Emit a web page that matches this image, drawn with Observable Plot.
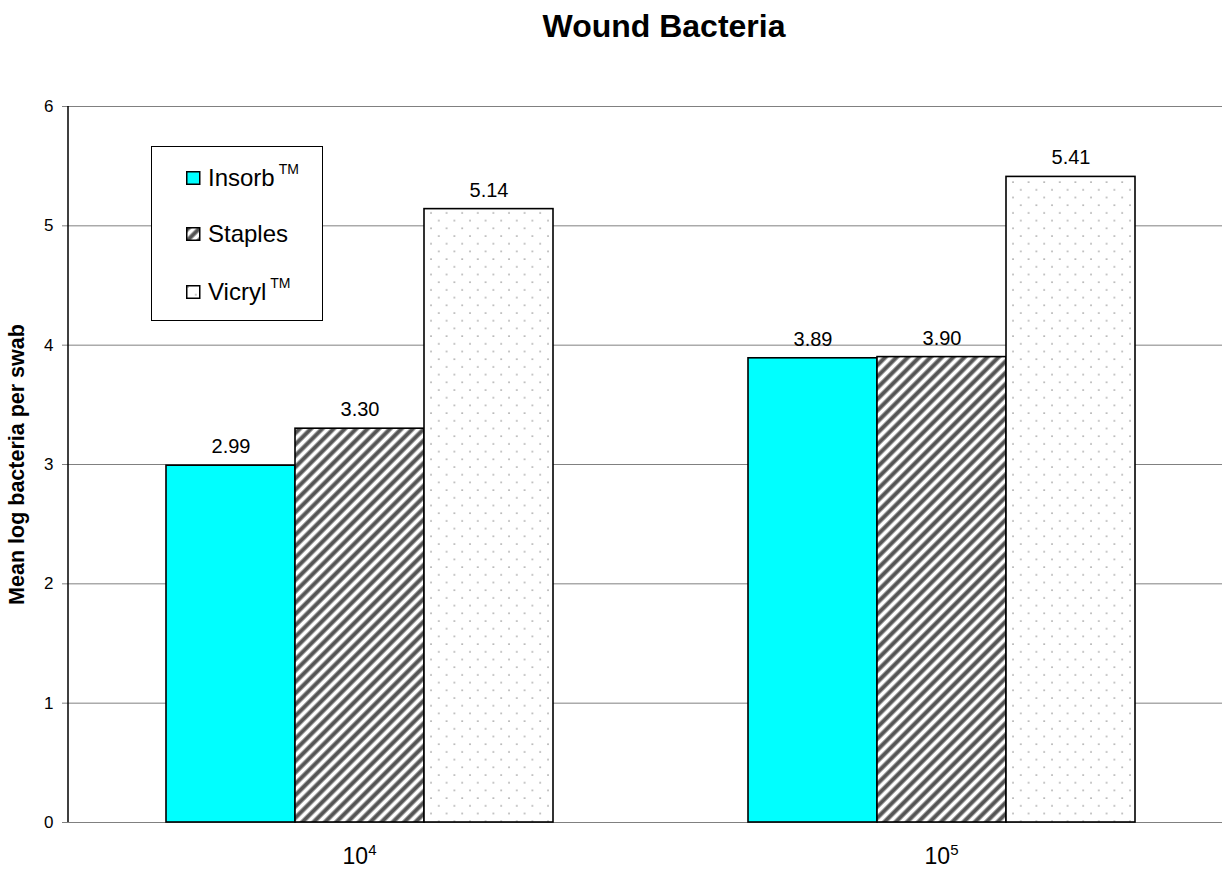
<!DOCTYPE html>
<html>
<head>
<meta charset="utf-8">
<script src="https://cdn.jsdelivr.net/npm/d3@7"></script>
<script src="https://cdn.jsdelivr.net/npm/@observablehq/plot@0.6"></script>
<style>
  html, body { margin: 0; padding: 0; background: white; }
  body { font-family: "Liberation Sans", Arial, sans-serif; }
  #wrap { position: relative; width: 1222px; height: 870px; overflow: hidden; background: white; }
  #title { position: absolute; top: 10px; left: 664px; transform: translateX(-50%); font-size: 32px; line-height: 32px; font-weight: bold; white-space: nowrap; color: black; }
  #chart { position: absolute; left: 0; top: 80px; }
  #legend { position: absolute; left: 151px; top: 146px; width: 170px; height: 173px; border: 1px solid black; background: white; }
  .item { position: absolute; left: 34px; font-size: 24px; line-height: 24px; white-space: nowrap; color: black; }
  .item svg { position: absolute; left: 0; top: 0; overflow: visible; }
  .item span.lab { position: absolute; left: 22px; top: 0; }
  .item sup { font-size: 14px; position: relative; top: -9px; vertical-align: top; margin-left: 4px; }
</style>
</head>
<body>
<svg width="0" height="0" style="position:absolute">
  <defs>
    <pattern id="stripes" patternUnits="userSpaceOnUse" width="8" height="8" patternTransform="rotate(45)">
      <rect width="8" height="8" fill="white"/>
      <rect x="0" width="1" height="8" fill="#a0a0a0"/>
      <rect x="1" width="3" height="8" fill="#555555"/>
      <rect x="4" width="1" height="8" fill="#a0a0a0"/>
    </pattern>
    <pattern id="dots" patternUnits="userSpaceOnUse" width="15.6" height="15.4">
      <rect width="15.6" height="15.4" fill="white"/>
      <circle cx="2" cy="2" r="0.85" fill="#9a9a9a"/>
      <circle cx="9.8" cy="9.7" r="0.85" fill="#9a9a9a"/>
    </pattern>
  </defs>
</svg>
<div id="wrap">
  <div id="title">Wound Bacteria</div>
  <div id="chart"></div>
  <div id="legend"></div>
</div>
<script>
// ---- data ----
const groups = ["10^4", "10^5"];
const seriesNames = ["Insorb", "Staples", "Vicryl"];
const insorbValues = [2.99, 3.89];
const staplesValues = [3.30, 3.90];
const vicrylValues = [5.14, 5.41];
const yTicks = [0, 1, 2, 3, 4, 5, 6];
const yLabel = "Mean log bacteria per swab";
const legendLabels = [
  {name: "Insorb", tm: true},
  {name: "Staples", tm: false},
  {name: "Vicryl", tm: true}
];

// ---- build table ----
const valuesBySeries = {Insorb: insorbValues, Staples: staplesValues, Vicryl: vicrylValues};
const fills = {Insorb: "#00ffff", Staples: "url(#stripes)", Vicryl: "url(#dots)"};
const rows = groups.flatMap((g, i) => seriesNames.map(s => ({group: g, series: s, value: valuesBySeries[s][i]})));

const marginLeft = 68;
const chart = Plot.plot({
  width: 1222,
  height: 790,
  marginLeft,
  marginRight: -10,
  marginTop: 26,
  marginBottom: 48,
  style: {fontFamily: "'Liberation Sans', Arial, sans-serif", background: "white", color: "black"},
  fx: {domain: groups, padding: 0, axis: null, label: null},
  x: {domain: seriesNames, paddingInner: 0, paddingOuter: 0.75, axis: null},
  y: {domain: [0, 6], axis: null},
  marks: [
    Plot.gridY(yTicks, {stroke: "#808080", strokeOpacity: 1, strokeWidth: 1}),
    ...seriesNames.map(s => Plot.barY(rows.filter(d => d.series === s), {
      fx: "group", x: "series", y: "value",
      fill: fills[s], stroke: "black", strokeWidth: 1.6
    })),
    Plot.text(rows, {
      fx: "group", x: "series", y: "value",
      text: d => d.value.toFixed(2), dy: -19, fontSize: 20, fill: "black"
    }),
    Plot.axisY(yTicks, {
      tickSize: 6, tickPadding: 9, fontSize: 17, stroke: "#808080", fill: "black",
      tickFormat: d => String(d),
      label: yLabel, labelAnchor: "center", labelArrow: "none", labelOffset: 60
    }),
    Plot.axisFx({anchor: "bottom", tickSize: 0, tickPadding: 25, fontSize: 23, label: null, fill: "black"})
  ]
});
document.getElementById("chart").appendChild(chart);

// superscripts on the category tick labels
chart.querySelectorAll('[aria-label="fx-axis tick label"] text').forEach(t => {
  const s = t.textContent;
  if (s.includes("^")) {
    const [base, exp] = s.split("^");
    t.textContent = base;
    const ts = document.createElementNS("http://www.w3.org/2000/svg", "tspan");
    ts.setAttribute("font-size", "15");
    ts.setAttribute("dy", "-9");
    ts.textContent = exp;
    t.appendChild(ts);
  }
});

// y tick label size
chart.querySelectorAll('[aria-label="y-axis tick label"], [aria-label="y-axis tick label"] text').forEach(el => {
  el.setAttribute("font-size", "17");
  el.style.fontSize = "17px";
});

// style y-axis label
chart.querySelectorAll('[aria-label="y-axis label"] text').forEach(t => {
  t.setAttribute("font-weight", "bold");
  t.setAttribute("font-size", "21.5");
});

// vertical y-axis line at the frame's left edge
const ys = chart.scale("y");
const line = document.createElementNS("http://www.w3.org/2000/svg", "line");
line.setAttribute("x1", marginLeft); line.setAttribute("x2", marginLeft);
line.setAttribute("y1", ys.apply(6)); line.setAttribute("y2", ys.apply(0));
line.setAttribute("stroke", "black"); line.setAttribute("stroke-width", "1.5");
chart.appendChild(line);

// legend
const legend = document.getElementById("legend");
const tops = [19, 75, 133];
legendLabels.forEach((L, i) => {
  const div = document.createElement("div");
  div.className = "item";
  div.style.top = tops[i] + "px";
  const sw = `<svg width="15" height="14" style="top:5px"><rect x="0.75" y="0.75" width="13" height="12.5" fill="${fills[L.name]}" stroke="black" stroke-width="1.5"/></svg>`;
  div.innerHTML = sw + `<span class="lab">${L.name}${L.tm ? "<sup>TM</sup>" : ""}</span>`;
  legend.appendChild(div);
});
</script>
</body>
</html>
